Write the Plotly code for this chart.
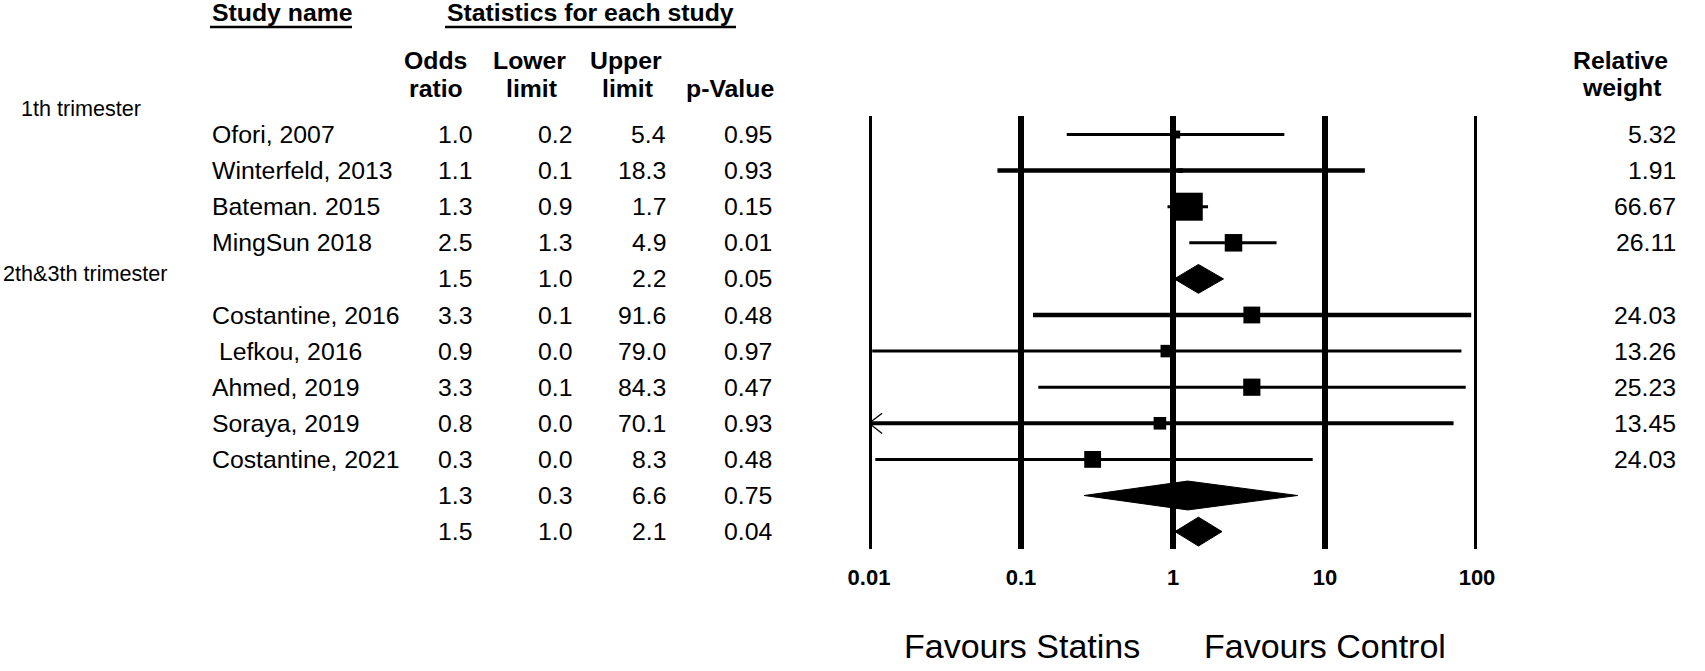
import plotly.graph_objects as go

W, H = 1705, 671

# ---------------- data ----------------
study_names = ["Ofori, 2007", "Winterfeld, 2013", "Bateman. 2015", "MingSun 2018", "",
               "Costantine, 2016", "\u00a0Lefkou, 2016", "Ahmed, 2019", "Soraya, 2019",
               "Costantine, 2021", "", ""]
odds_ratio_txt = ["1.0", "1.1", "1.3", "2.5", "1.5", "3.3", "0.9", "3.3", "0.8", "0.3", "1.3", "1.5"]
lower_txt = ["0.2", "0.1", "0.9", "1.3", "1.0", "0.1", "0.0", "0.1", "0.0", "0.0", "0.3", "1.0"]
upper_txt = ["5.4", "18.3", "1.7", "4.9", "2.2", "91.6", "79.0", "84.3", "70.1", "8.3", "6.6", "2.1"]
p_value_txt = ["0.95", "0.93", "0.15", "0.01", "0.05", "0.48", "0.97", "0.47", "0.93", "0.48", "0.75", "0.04"]
weight_txt = ["5.32", "1.91", "66.67", "26.11", "", "24.03", "13.26", "25.23", "13.45", "24.03", "", ""]

# plotted values
estimate = [1.05, 1.12, 1.27, 2.5, 1.47, 3.3, 0.91, 3.3, 0.82, 0.296, 1.25, 1.47]
ci_low = [0.20, 0.07, 0.92, 1.28, 1.02, 0.12, 0.0105, 0.13, 0.01, 0.011, 0.26, 1.03]
ci_high = [5.4, 18.3, 1.7, 4.8, 2.15, 91.6, 79.0, 84.3, 70.1, 8.3, 6.6, 2.1]
rel_weight = [5.32, 1.91, 66.67, 26.11, None, 24.03, 13.26, 25.23, 13.45, 24.03, None, None]
is_summary = [False, False, False, False, True, False, False, False, False, False, True, True]

group_labels = ["1th trimester", "2th&3th trimester"]
tick_vals = [0.01, 0.1, 1, 10, 100]
tick_labels = ["0.01", "0.1", "1", "10", "100"]
favours_left = "Favours Statins"
favours_right = "Favours Control"

# ---------------- layout helpers ----------------
ROW0, ROWH = 134.5, 36.1           # pixel centre of first row, row pitch
AXIS_PX = 562                      # pixel of x-axis baseline
FONT = "Liberation Sans, Arial, sans-serif"
TXT = 24.8
line_w = [3, 4.5, 3, 3, 3, 4.5, 3, 3, 4, 3, 3, 3]


def row_of(py):
    return (py - ROW0) / ROWH


def px(x):
    return x / W


def py(y):
    return 1 - y / H


n = len(estimate)
fig = go.Figure()

# vertical reference lines
for v in tick_vals:
    fig.add_trace(go.Scatter(x=[v, v], y=[row_of(116), row_of(549)], mode="lines",
                             line=dict(color="black", width=6), hoverinfo="skip",
                             showlegend=False, cliponaxis=False))

# confidence intervals and squares
for i in range(n):
    if is_summary[i]:
        h = 0.40
        fig.add_trace(go.Scatter(x=[ci_low[i], estimate[i], ci_high[i], estimate[i], ci_low[i]],
                                 y=[i, i - h, i, i + h, i], mode="lines", fill="toself",
                                 fillcolor="black", line=dict(color="black", width=1),
                                 hoverinfo="skip", showlegend=False, cliponaxis=False))
        continue
    fig.add_trace(go.Scatter(x=[ci_low[i], ci_high[i]], y=[i, i], mode="lines",
                             line=dict(color="black", width=line_w[i]), hoverinfo="skip",
                             showlegend=False, cliponaxis=False))
    if ci_low[i] <= tick_vals[0]:
        fig.add_trace(go.Scatter(x=[0.0122, 0.01, 0.0122], y=[i - 0.28, i, i + 0.28], mode="lines",
                                 line=dict(color="black", width=1.3), hoverinfo="skip",
                                 showlegend=False, cliponaxis=False))
    size = 3.43 * rel_weight[i] ** 0.5
    fig.add_trace(go.Scatter(x=[estimate[i]], y=[i], mode="markers",
                             marker=dict(symbol="square", size=size, color="black",
                                         line=dict(width=0)),
                             hoverinfo="skip", showlegend=False, cliponaxis=False))

ann = []


def add_text(text, x, y, xanchor="left", size=TXT, bold=False, yref="paper", xref="paper"):
    ann.append(dict(text=f"<b>{text}</b>" if bold else text, x=x, y=y, xref=xref, yref=yref,
                    xanchor=xanchor, yanchor="middle", showarrow=False,
                    font=dict(family=FONT, size=size, color="black")))


# headers
add_text("Study name", px(210), py(13), bold=True)
add_text("Statistics for each study", px(590), py(13), xanchor="center", bold=True)
add_text("Odds", px(435), py(60), xanchor="center", bold=True)
add_text("ratio", px(436), py(88), xanchor="center", bold=True)
add_text("Lower", px(529), py(60), xanchor="center", bold=True)
add_text("limit", px(531), py(88), xanchor="center", bold=True)
add_text("Upper", px(626), py(60), xanchor="center", bold=True)
add_text("limit", px(627), py(88), xanchor="center", bold=True)
add_text("p-Value", px(730), py(88), xanchor="center", bold=True)
add_text("Relative", px(1620), py(60), xanchor="center", bold=True)
add_text("weight", px(1622), py(87), xanchor="center", bold=True)

# group labels
add_text(group_labels[0], px(19), row_of(108), size=21.6, yref="y")
add_text(group_labels[1], px(1), row_of(273), size=21.6, yref="y")

# rows
for i in range(n):
    if study_names[i]:
        add_text(study_names[i], px(210), i, yref="y")
    add_text(odds_ratio_txt[i], px(474), i, xanchor="right", yref="y")
    add_text(lower_txt[i], px(574), i, xanchor="right", yref="y")
    add_text(upper_txt[i], px(668), i, xanchor="right", yref="y")
    add_text(p_value_txt[i], px(774), i, xanchor="right", yref="y")
    if weight_txt[i]:
        add_text(weight_txt[i], px(1678), i, xanchor="right", yref="y")

# favours
add_text(favours_left, px(1022), py(646), xanchor="center", size=34)
add_text(favours_right, px(1325), py(646), xanchor="center", size=34)

shapes = [
    dict(type="line", xref="paper", yref="paper", x0=px(210), x1=px(352), y0=py(27), y1=py(27),
         line=dict(color="black", width=2.5)),
    dict(type="line", xref="paper", yref="paper", x0=px(445), x1=px(736), y0=py(27), y1=py(27),
         line=dict(color="black", width=2.5)),
]

fig.update_layout(
    width=W, height=H,
    autosize=False,
    margin=dict(l=0, r=0, t=0, b=0, pad=0, autoexpand=False),
    paper_bgcolor="white", plot_bgcolor="white",
    showlegend=False,
    annotations=ann,
    shapes=shapes,
    xaxis=dict(type="log", range=[-2, 2], domain=[px(869), px(1477)],
               tickvals=tick_vals, ticktext=[f"<b>{t}</b>" for t in tick_labels],
               tickfont=dict(family=FONT, size=22, color="black"),
               showgrid=False, zeroline=False, showline=False, ticks="", fixedrange=True,
               automargin=False),
    yaxis=dict(range=[row_of(AXIS_PX), row_of(0)], domain=[py(AXIS_PX), 1],
               visible=False, fixedrange=True, automargin=False),
)

fig.write_html("out.html", config={"responsive": False, "displayModeBar": False},
               post_script="document.body.style.margin='0';document.body.style.overflow='hidden';")
